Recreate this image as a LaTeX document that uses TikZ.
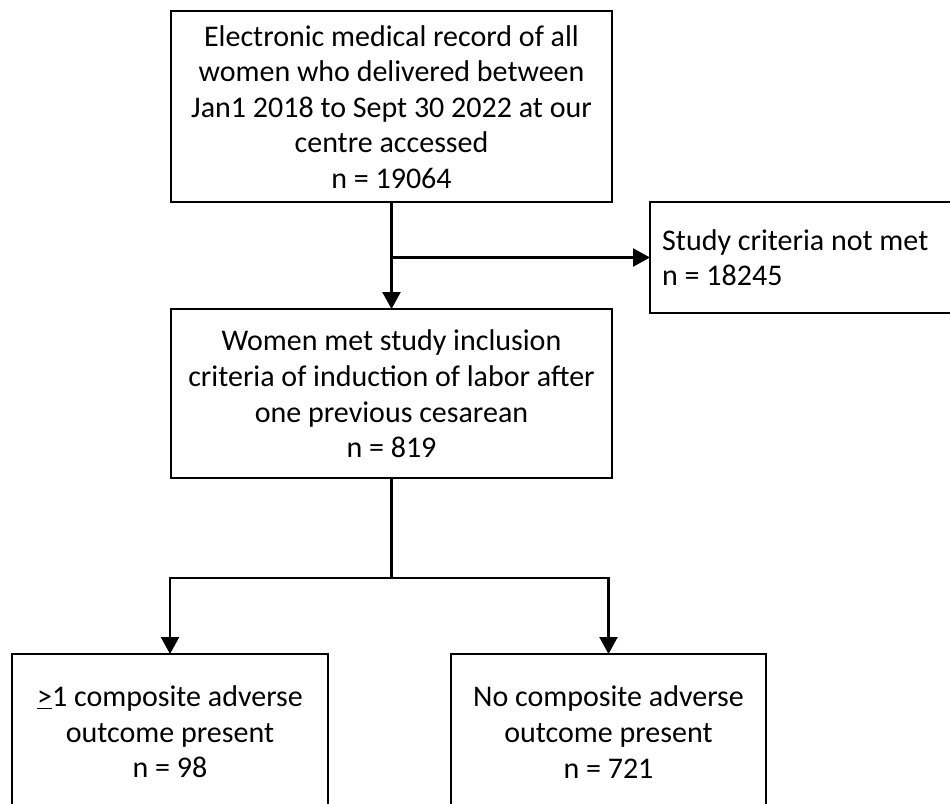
\documentclass[tikz,border=0pt]{standalone}
\usepackage{fontspec}
\setmainfont{Carlito}
\usetikzlibrary{arrows.meta}
\begin{document}
\begin{tikzpicture}[x=1pt,y=-1pt,
  box/.style={draw, line width=1.8pt, inner sep=0pt, outer sep=0pt},
  txt/.style={font=\fontsize{30}{35.6}\selectfont, align=center, inner sep=0pt},
  conn/.style={line width=2.3pt},
  arr/.style={conn, -{Triangle[length=17pt,width=18pt]}}]
\useasboundingbox (0,0) rectangle (950,803);
\clip (0,0) rectangle (950,803);
\fill[white] (0,0) rectangle (950,803);
% boxes
\node[box, minimum width=441pt, minimum height=191pt] (top) at (391.5,106.5) {};
\node[txt] (toptxt) at (391.5,107) {Electronic medical record of all\\women who delivered between\\Jan1 2018 to Sept 30 2022 at our\\centre accessed\\n = 19064};
\node[box, minimum width=441pt, minimum height=169pt] (mid) at (391.5,393.5) {};
\node[txt] (midtxt) at (391.5,394) {Women met study inclusion\\criteria of induction of labor after\\one previous cesarean\\n = 819};
\node[box, minimum width=360pt, minimum height=111pt] (excl) at (830,257.5) {};
\node[txt, align=left, anchor=west] (excltxt) at (662,257.5) {Study criteria not met\\n = 18245};
\node[box, minimum width=316pt, minimum height=220pt, anchor=north] (bl) at (170,654) {};
\node[txt] (bltxt) at (170,732) {\underline{>}1 composite adverse\\outcome present\\n = 98};
\node[box, minimum width=315pt, minimum height=220pt, anchor=north] (br) at (608.5,654) {};
\node[txt] (brtxt) at (608.5,732) {No composite adverse\\outcome present\\n = 721};
% connectors
\draw[arr] (top.south) -- (mid.north);
\coordinate (branch) at (top.south |- excl.west);
\draw[arr] (branch) -- (excl.west);
\coordinate (split) at (391.5,578);
\draw[conn] (mid.south) -- (split);
\draw[arr] (split) -| (bl.north);
\draw[arr] (split) -| (br.north);
\end{tikzpicture}
\end{document}
